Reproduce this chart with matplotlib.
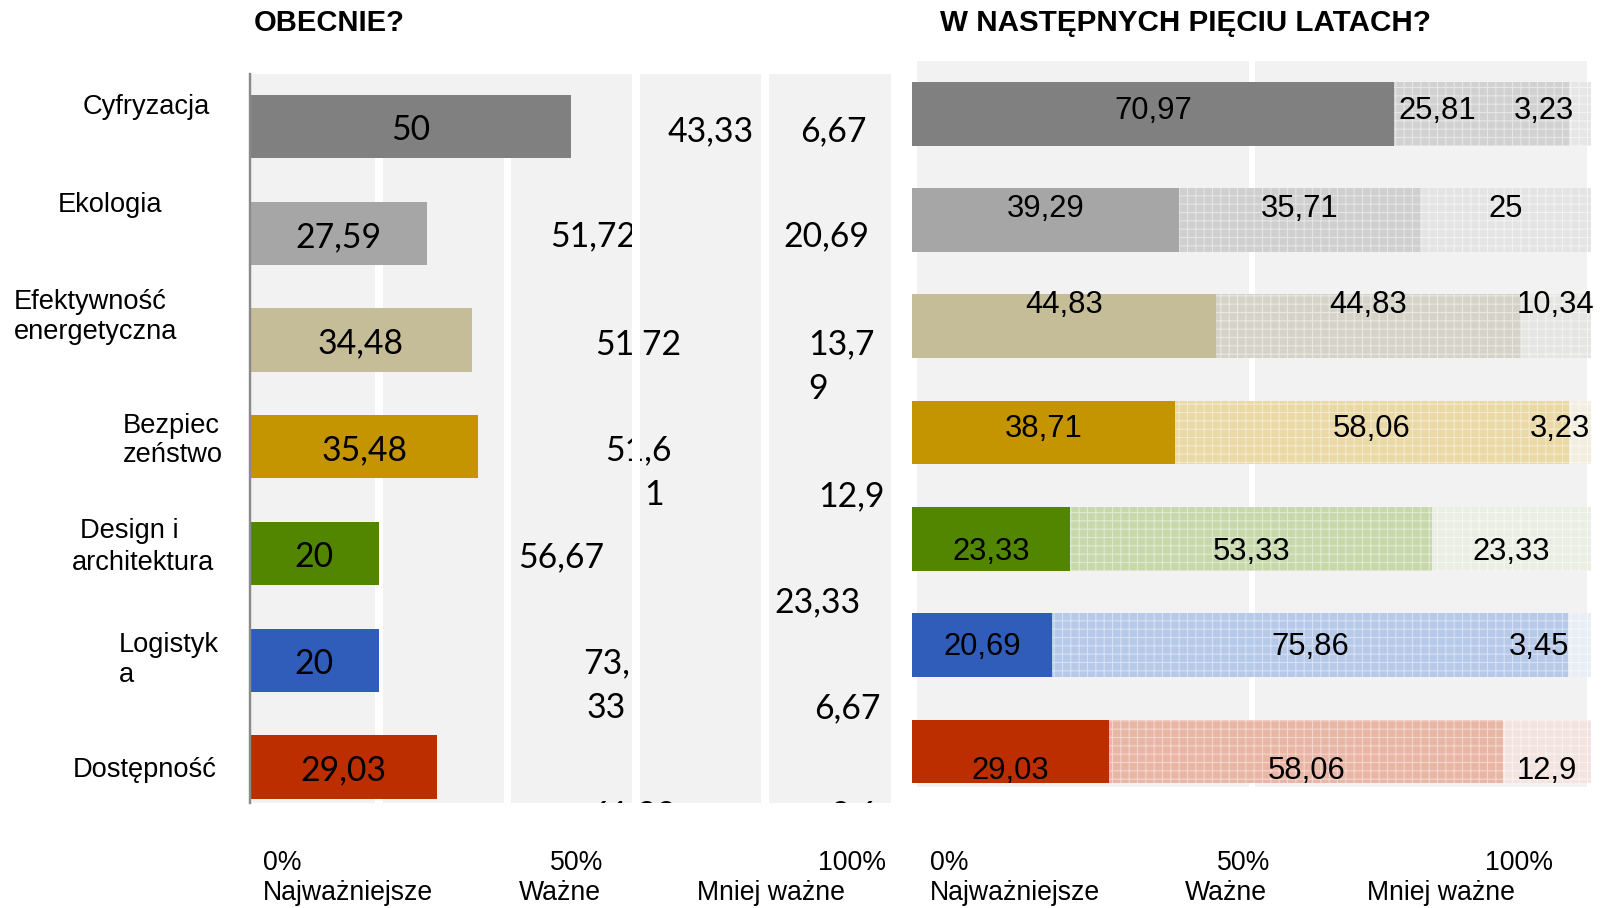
import matplotlib
matplotlib.use("Agg")
import matplotlib.pyplot as plt
from matplotlib.patches import Rectangle
from matplotlib.colors import to_rgb

W, H = 1601, 908

# ---------------- data ----------------
categories = ["Cyfryzacja", "Ekologia", "Efektywność\nenergetyczna", "Bezpiec\nzeństwo",
              "Design i\narchitektura", "Logistyk\na", "Dostępność"]
now_top = [50, 27.59, 34.48, 35.48, 20, 20, 29.03]
now_mid = [43.33, 51.72, 51.72, 51.61, 56.67, 73.33, 61.29]
now_low = [6.67, 20.69, 13.79, 12.9, 23.33, 6.67, 9.68]
fut_top = [70.97, 39.29, 44.83, 38.71, 23.33, 20.69, 29.03]
fut_mid = [25.81, 35.71, 44.83, 58.06, 53.33, 75.86, 58.06]
fut_low = [3.23, 25, 10.34, 3.23, 23.33, 3.45, 12.9]
title_now = "OBECNIE?"
title_future = "W NASTĘPNYCH PIĘCIU LATACH?"
tick_pct = ["0%", "50%", "100%"]
tick_names = ["Najważniejsze", "Ważne", "Mniej ważne"]

# ---------------- styles ----------------
base_colors = ["#808080", "#a6a6a6", "#c4bd97", "#c49500", "#538600", "#305db9", "#bc2e00"]
mid_colors = ["#d1d1d1", "#cfcfcf", "#d5d3c8", "#ead9a5", "#c7d8ab", "#b7c9e9", "#e9b6a6"]
low_colors = ["#e6e6e6", "#e4e4e4", "#e5e5e3", "#f2eee0", "#ebefe3", "#e9eef6", "#f4e4df"]

# label layout (pixel offsets, wraps, alignment of the wrapped line)
now_mid_dy = [3, 1, 2, 1, 2, 1, 46]
now_low_dy = [3, 1, 2, 47, 47, 46, 46]
now_mid_dx = [0, 0, 0, -6, 0, -8, 0]
now_mid_dx2 = [0, 0, 0, 16, 0, 0, 0]
now_low_dx = [-38, 0, -7, 0, 0, -24, -8]
now_low_dx2 = [0, 0, 0, 0, 0, 0, 0]
now_mid_wrap = [None, None, None, 4, None, 3, None]
now_low_wrap = [None, None, 4, None, None, None, 3]
now_mid_wrap_left = [False] * 7
now_low_wrap_left = [False, False, True, False, False, False, False]
fut_dy = [-6, -14.5, -24.5, -7, 10, -1, 16]
fut_mid_dx = [-44, 0, 0, 0, 0, 0, 0]
fut_low_dx = [-36, 0, 0, -20, 0, -40, 0]
cat_pos = [[(83, 114)], [(58, 212)], [(14, 309), (14, 339)], [(123, 433), (123, 462)],
           [(80, 538), (72, 570)], [(119, 652), (119, 682)], [(73, 777)]]

plt.rcParams['hatch.linewidth'] = 0.8
SANS = ["Liberation Sans", "DejaVu Sans"]
CAL = ["Lato", "DejaVu Sans"]
FS_LEFT = 24.3
FS_RIGHT = 22.3


def fmt(v):
    s = f"{v:.2f}".rstrip('0').rstrip('.')
    return s.replace('.', ',')


def lighten(c, f):
    r, g, b = to_rgb(c)
    return (r + (1 - r) * f, g + (1 - g) * f, b + (1 - b) * f)


fig = plt.figure(figsize=(W / 100, H / 100), dpi=100)
fig.patch.set_facecolor("white")


def fx(x):
    return x / W


def fy(y):
    return 1 - y / H


def add_axes_px(l, t, w, b):
    return fig.add_axes([l / W, 1 - b / H, w / W, (b - t) / H])


n = len(categories)
rows = list(range(n))

# ================= LEFT PANEL =================
axL = add_axes_px(250, 74, 641, 802.7)
axL.set_xlim(0, 99.7)
axL.set_ylim(6.3355, -0.4939)
axL.set_facecolor("#f2f2f2")
for s in ["top", "right", "bottom"]:
    axL.spines[s].set_visible(False)
axL.spines["left"].set_color("#8a8a8a")
axL.spines["left"].set_linewidth(1.73)
axL.spines["left"].set_zorder(6)
axL.set_xticks([])
axL.set_yticks([])

hL = 0.593
bars_top = axL.barh(rows, now_top, height=hL, color=base_colors, zorder=4, linewidth=0)
lefts_mid = list(now_top)
bars_mid = axL.barh(rows, now_mid, left=lefts_mid, height=hL, color="none", zorder=1, linewidth=0)
lefts_low = [a + b for a, b in zip(now_top, now_mid)]
bars_low = axL.barh(rows, now_low, left=lefts_low, height=hL, color="none", zorder=1, linewidth=0)

# white gridline stripes
for g in [20, 40, 60, 80]:
    y0 = -0.4939 if g > now_top[0] else hL / 2
    axL.add_patch(Rectangle((g - 0.55, y0), 1.2, 6.3355 - y0, facecolor="white",
                            edgecolor="none", zorder=3))

DH_L = 24.0 / 2
for i, p in enumerate(bars_top):
    xc = p.get_x() + p.get_width() / 2
    yc = p.get_y() + p.get_height() / 2
    axL.annotate(fmt(now_top[i]), (xc, yc), xytext=(0, -(1.5 + DH_L)), textcoords="offset pixels",
                 ha="center", va="baseline", fontsize=FS_LEFT, family=CAL, color="black", zorder=5)

renderer = fig.canvas.get_renderer()


def put_left(patches, vals, dxs, dxs2, dys, wraps, lefts):
    for i, p in enumerate(patches):
        xc = p.get_x() + p.get_width() / 2
        yc = p.get_y() + p.get_height() / 2
        s = fmt(vals[i])
        lines = [s] if wraps[i] is None else [s[:wraps[i]], s[wraps[i]:]]
        first = None
        for k, line in enumerate(lines):
            dx = dxs[i] + (dxs2[i] if k > 0 else 0)
            ha = "center"
            if k > 0 and lefts[i] and first is not None:
                bb = first.get_window_extent(renderer)
                xpix = axL.transData.transform((xc, yc))[0]
                dx = bb.x0 - xpix
                ha = "left"
            t = axL.annotate(line, (xc, yc), xytext=(dx, -(dys[i] + 45 * k + DH_L)),
                             textcoords="offset pixels", ha=ha, va="baseline",
                             fontsize=FS_LEFT, family=CAL, color="black", zorder=2, clip_on=True)
            if k == 0:
                first = t


put_left(bars_mid, now_mid, now_mid_dx, now_mid_dx2, now_mid_dy, now_mid_wrap, now_mid_wrap_left)
put_left(bars_low, now_low, now_low_dx, now_low_dx2, now_low_dy, now_low_wrap, now_low_wrap_left)

# ================= RIGHT PANEL =================
axR = add_axes_px(911.8, 61, 679.2, 786.7)
axR.set_xlim(0, 100)
axR.set_ylim(6.331, -0.4958)
axR.set_facecolor("none")
for s in axR.spines.values():
    s.set_visible(False)
axR.set_xticks([])
axR.set_yticks([])
axR.add_patch(Rectangle((0.72, -0.4958), 99.44 - 0.72, 6.331 + 0.4958, facecolor="#f2f2f2",
                        edgecolor="none", zorder=0))
axR.add_patch(Rectangle((49.6, -0.4958), 1.0, 6.331 + 0.4958, facecolor="white",
                        edgecolor="none", zorder=1))

hR = 0.6
rb_top = axR.barh(rows, fut_top, height=hR, color=base_colors, linewidth=0, zorder=3)
l_mid = list(fut_top)
rb_mid = axR.barh(rows, fut_mid, left=l_mid, height=hR, color=mid_colors,
                  edgecolor=[lighten(c, 0.45) for c in mid_colors], linewidth=0,
                  hatch="++", zorder=3)
l_low = [a + b for a, b in zip(fut_top, fut_mid)]
rb_low = axR.barh(rows, fut_low, left=l_low, height=hR, color=low_colors,
                  edgecolor=[lighten(c, 0.5) for c in low_colors], linewidth=0,
                  hatch="++", zorder=3)

DH_R = 22.0 / 2


def put_right(patches, vals, dxs):
    for i, p in enumerate(patches):
        xc = p.get_x() + p.get_width() / 2
        yc = p.get_y() + p.get_height() / 2
        axR.annotate(fmt(vals[i]), (xc, yc), xytext=(dxs[i], -(fut_dy[i] + DH_R)),
                     textcoords="offset pixels", ha="center", va="baseline",
                     fontsize=FS_RIGHT, family=SANS, color="black", zorder=5)


put_right(rb_top, fut_top, [0] * n)
put_right(rb_mid, fut_mid, fut_mid_dx)
put_right(rb_low, fut_low, fut_low_dx)

# ================= TEXTS =================
fig.text(fx(254), fy(31), title_now, fontsize=21, fontweight="bold", family=SANS,
         ha="left", va="baseline")
fig.text(fx(940), fy(31), title_future, fontsize=21.3, fontweight="bold", family=SANS,
         ha="left", va="baseline")

for cat, pos in zip(categories, cat_pos):
    for line, (x, y) in zip(cat.split("\n"), pos):
        fig.text(fx(x), fy(y), line, fontsize=19.6, family=SANS, ha="left", va="baseline")

pct_pos = [[(263, "left"), (603, "right"), (886, "right")],
           [(930, "left"), (1270, "right"), (1553, "right")]]
name_pos = [[(263, "left"), (601, "right"), (697, "left")],
            [(930, "left"), (1267, "right"), (1367, "left")]]
for panel in range(2):
    for t, (x, ha) in zip(tick_pct, pct_pos[panel]):
        fig.text(fx(x), fy(870), t, fontsize=19.2, family=SANS, ha=ha, va="baseline")
    for t, (x, ha) in zip(tick_names, name_pos[panel]):
        fig.text(fx(x), fy(900), t, fontsize=19.2, family=SANS, ha=ha, va="baseline")

fig.savefig("out.png", dpi=100)
